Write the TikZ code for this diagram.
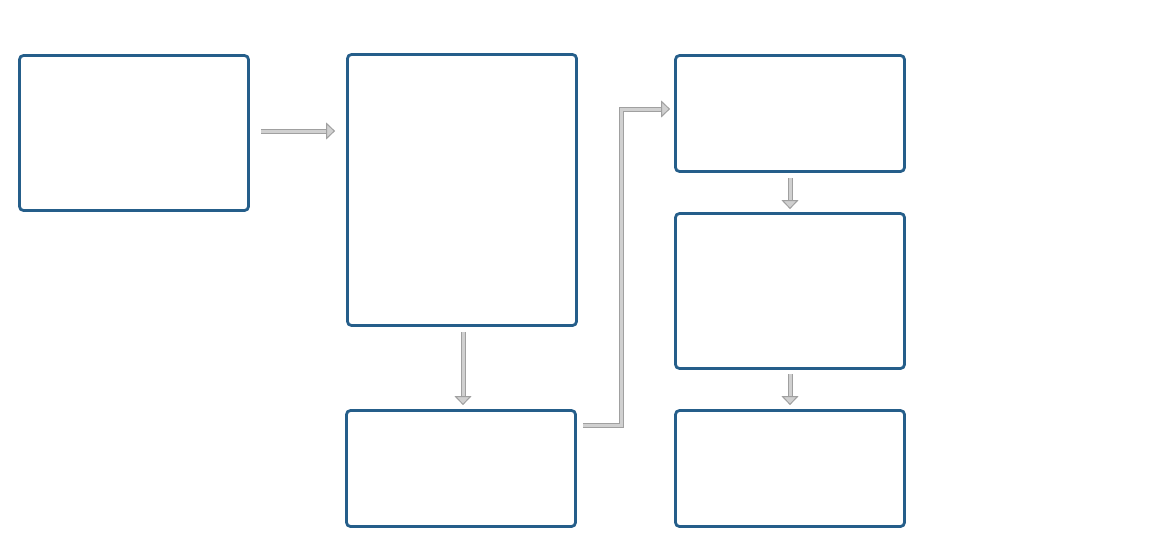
\documentclass[tikz,border=0pt]{standalone}
\usepackage{tikz}
\usetikzlibrary{positioning,arrows.meta,calc}
\definecolor{boxblue}{HTML}{255E8A}
\definecolor{arrowgray}{HTML}{A0A0A0}
\definecolor{arrowfill}{HTML}{D0D0D0}
\tikzset{
  flowarrow/.style={draw=arrowgray, line width=1pt, double=arrowfill, double distance=3pt,
    -{Triangle[open, length=9pt, width=17pt, fill=arrowfill]}},
  stagebox/.style={draw=boxblue, line width=2.8pt, rounded corners=4pt, fill=white,
    minimum width=229pt, inner sep=0pt}
}

\begin{document}
\begin{tikzpicture}[x=1pt, y=-1pt]
  \useasboundingbox (0,0) rectangle (1157,546);
  \node[stagebox, minimum height=155pt] (input) at (134,133) {};
  \node[stagebox, minimum height=271pt] (core) at (462,190) {};
  \node[stagebox, minimum height=116pt] (output) at (461,468.5) {};
  \node[stagebox, minimum height=116pt] (first) at (790,113.5) {};
  \node[stagebox, minimum height=155pt] (second) at (790,291) {};
  \node[stagebox, minimum height=116pt] (third) at (790,468.5) {};
  \draw[flowarrow, shorten <=11pt, shorten >=11pt] (input.east |- 0,131) -- (core.west |- 0,131);
  \draw[flowarrow, shorten <=5pt, shorten >=4pt] (core.south -| 463,0) -- (output.north -| 463,0);
  \draw[flowarrow, shorten <=5pt, shorten >=3pt] (first.south) -- (second.north);
  \draw[flowarrow, shorten <=4pt, shorten >=4pt] (second.south) -- (third.north);
  \draw[flowarrow, shorten <=6pt, shorten >=4pt] (output.east |- 0,425) -| (621,117) |- (first.west |- 0,109);
\end{tikzpicture}
\end{document}
